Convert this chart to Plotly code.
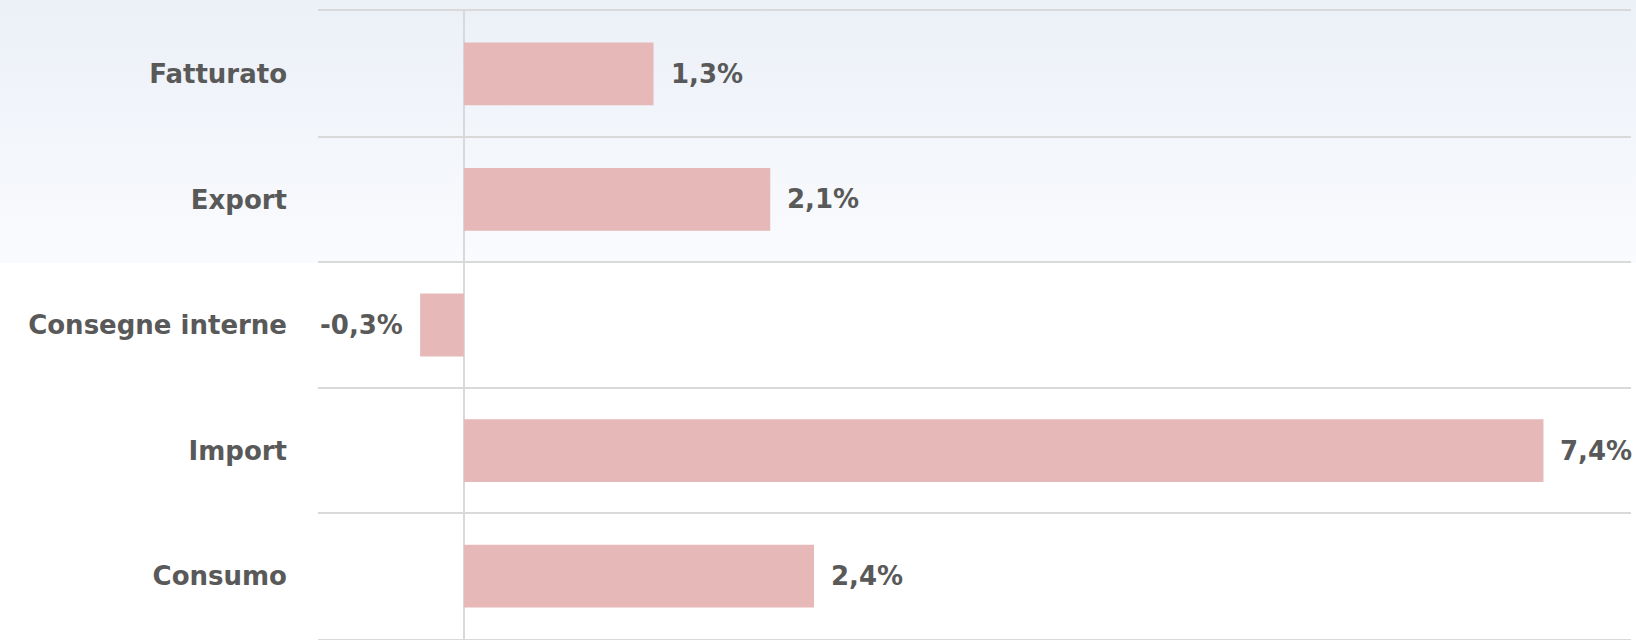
import base64
import plotly.graph_objects as go

categories = ["Fatturato", "Export", "Consegne interne", "Import", "Consumo"]
values = [1.3, 2.1, -0.3, 7.4, 2.4]

W, H = 1636, 640
L, R, T, B = 318, 5, 11, 1
plot_w = W - L - R
plot_h = H - T - B

FONT = "DejaVu Sans, Century Gothic, sans-serif"
FS = 26
TXT = "#595959"
BAR = "#e6b8b7"
GRID = "#d9d9d9"

svg = (
    '<svg xmlns="http://www.w3.org/2000/svg" viewBox="0 0 100 100" width="100" height="100" '
    'preserveAspectRatio="none">'
    '<defs><linearGradient id="g" x1="0" y1="0" x2="0" y2="1">'
    '<stop offset="0" stop-color="#eaeff7"/><stop offset="1" stop-color="#fbfcfe"/>'
    '</linearGradient></defs><rect x="-10" y="-10" width="120" height="120" fill="url(#g)"/></svg>'
)
src = "data:image/svg+xml;base64," + base64.b64encode(svg.encode()).decode()

fig = go.Figure(
    go.Bar(
        x=values,
        y=categories,
        orientation="h",
        marker=dict(color=BAR, line=dict(width=0)),
        hoverinfo="skip",
    )
)

for c, v in zip(categories, values):
    txt = f"{v:.1f}".replace(".", ",") + "%"
    fig.add_annotation(
        x=v, y=c, text=txt, showarrow=False,
        xanchor="left" if v >= 0 else "right",
        xshift=15 if v >= 0 else -15,
        font=dict(family=FONT, size=FS, color=TXT),
    )

grad_h = 263
fig.add_layout_image(
    source=src, xref="paper", yref="paper",
    x=-L / plot_w, y=1 + T / plot_h,
    sizex=W / plot_w, sizey=grad_h / plot_h,
    xanchor="left", yanchor="top", sizing="stretch", layer="below",
)

fig.update_layout(
    width=W, height=H,
    margin=dict(l=L, r=R, t=T, b=B),
    paper_bgcolor="white",
    plot_bgcolor="rgba(0,0,0,0)",
    bargap=0.5,
    showlegend=False,
    font=dict(family=FONT, size=FS, color=TXT),
    xaxis=dict(
        range=[-1, 8], showgrid=False, showticklabels=False, zeroline=True,
        zerolinecolor=GRID, zerolinewidth=2, fixedrange=True,
        showline=True, mirror=True, linecolor=GRID, linewidth=2,
    ),
    yaxis=dict(
        autorange="reversed", tickson="boundaries", showgrid=True,
        gridcolor=GRID, gridwidth=2, ticks="", ticklabelstandoff=30,
        tickfont=dict(family=FONT, size=FS, color=TXT, weight="bold"),
        fixedrange=True, automargin=False,
    ),
)
fig.update_annotations(font_weight="bold")

fig.write_html(
    "out.html",
    config={"displayModeBar": False},
    post_script="document.body.style.margin='0';document.body.style.overflow='hidden';",
)
